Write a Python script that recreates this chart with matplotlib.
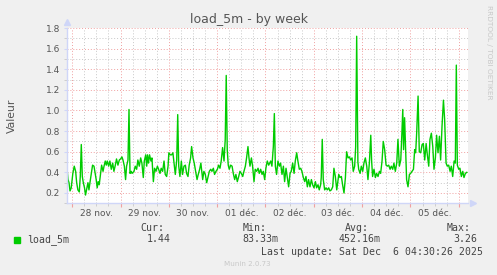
#!/usr/bin/env python3
"""
munin load_5m - by week
"""
import matplotlib
matplotlib.use('Agg')
import matplotlib.pyplot as plt
from matplotlib.ticker import MultipleLocator, FormatStrFormatter, NullFormatter

# hours since 28 nov. 00:00
hours = [
    -2.6, -2.1, -1.6, -1.1, -0.5, 0.3, 1.0, 1.7, 2.2, 2.8, 3.5, 4.0, 4.5, 5.0, 5.5, 6.1, 6.6, 7.1,
    7.8, 8.3, 8.8, 9.5, 10.1, 10.8, 11.4, 11.9, 12.4, 12.9, 13.4, 14.1, 14.6, 15.3, 15.8, 16.4,
    16.9, 17.4, 18.1, 18.7, 19.4, 20.1, 20.7, 21.4, 22.0, 22.7, 23.4, 24.0, 24.7, 25.2, 25.9,
    26.5, 27.0, 27.7, 28.2, 28.7, 29.3,
    29.7, 30.7, 31.3, 32.0, 32.6, 33.3, 34.0, 34.6, 35.3, 35.8, 36.5, 37.0, 37.4, 37.9, 38.4,
    39.1, 39.6, 40.3, 40.9, 41.6, 42.3, 42.9, 43.6, 44.2, 44.9, 45.6, 46.2, 46.9, 47.6, 48.0,
    48.7, 49.4, 50.0, 50.7, 51.2, 51.9, 52.4, 52.9, 53.5, 54.2, 54.8, 55.5, 56.2, 56.8, 57.5,
    58.1, 58.8, 59.3, 60.0, 60.6, 61.3, 62.0, 62.6, 63.3, 63.9,
    64.8, 65.4, 66.1, 66.8, 67.4, 68.1, 68.8, 69.4, 70.1, 70.7, 71.4, 72.1, 72.7, 73.4, 74.0,
    74.7, 75.4, 76.0, 76.5, 77.0, 77.5, 78.0, 78.7, 79.4, 80.0, 80.7, 81.3, 82.0, 82.7, 83.3,
    84.0, 84.7, 85.3, 86.0, 86.6, 87.3, 87.8, 88.3, 89.0, 89.6, 90.3, 90.9, 91.6, 92.3, 92.9,
    93.6, 94.3, 94.9, 95.6, 96.2, 96.9, 97.6,
    98.6, 99.2, 99.9, 100.4, 100.9, 101.5, 102.2, 102.9, 103.5, 104.2, 104.9, 105.5, 106.2,
    106.8, 107.5, 108.2, 108.8, 109.5, 110.2, 110.8, 111.5, 112.1, 112.8, 113.5, 114.1, 114.8,
    115.5, 116.1, 116.8, 117.4, 118.1, 118.8, 119.4, 120.1, 120.8, 121.4, 122.1, 122.7, 123.4,
    123.7, 124.2, 124.7, 125.4, 126.1, 126.7, 127.4, 128.0, 128.7, 129.4, 130.0, 130.7, 131.4,
    132.4, 133.0, 133.7, 134.3, 135.0, 135.7, 136.3, 137.0, 137.7, 138.3, 139.0, 139.6, 140.3,
    140.8, 141.3, 141.9, 142.3, 143.0, 143.6, 144.3, 144.9, 145.6, 146.3, 146.9, 147.6, 148.3,
    148.7, 149.2, 149.9, 150.6, 151.2, 151.9, 152.6, 153.2, 153.9, 154.5, 155.2, 155.9, 156.5,
    157.2, 157.9, 158.5, 159.2, 159.8, 160.5, 161.2, 161.8, 162.5, 163.2, 163.7, 164.2, 164.6,
    165.1, 165.6, 166.1, 166.8,
    167.5, 168.1, 168.8, 169.5, 170.1, 170.6, 171.1, 171.8, 172.4, 173.1, 173.8, 174.4, 175.1,
    175.8, 176.4, 177.1, 177.7, 178.4, 179.1, 179.7, 180.4, 181.0, 181.7, 182.4, 183.0, 183.7,
    184.4, 185.0, 185.7, 186.3, 187.0, 187.7, 188.3, 189.0, 189.7, 190.3, 190.8, 191.3, 192.0,
    192.6, 193.3, 194.0, 194.6, 195.3, 196.0,
]
load = [
    0.44, 0.33, 0.30, 0.22, 0.25, 0.39, 0.46, 0.41, 0.30, 0.23, 0.21, 0.36, 0.67, 0.36, 0.30, 0.25, 0.18, 0.23,
    0.30, 0.23, 0.30, 0.39, 0.47, 0.46, 0.39, 0.33, 0.25, 0.31, 0.28, 0.39, 0.47, 0.41, 0.46, 0.51,
    0.47, 0.51, 0.46, 0.51, 0.43, 0.49, 0.41, 0.47, 0.53, 0.47, 0.52, 0.53, 0.55, 0.52, 0.46,
    0.33, 0.46, 0.52, 1.01, 0.39, 0.41,
    0.39, 0.41, 0.46, 0.43, 0.52, 0.46, 0.54, 0.49, 0.35, 0.51, 0.57, 0.46, 0.57, 0.49, 0.57,
    0.51, 0.54, 0.31, 0.44, 0.41, 0.46, 0.43, 0.39, 0.44, 0.41, 0.51, 0.38, 0.36, 0.46, 0.59,
    0.57, 0.57, 0.59, 0.47, 0.38, 0.52, 0.96, 0.46, 0.36, 0.51, 0.38, 0.46, 0.47, 0.39, 0.36,
    0.47, 0.54, 0.65, 0.54, 0.49, 0.41, 0.33, 0.38, 0.43, 0.49,
    0.33, 0.41, 0.38, 0.30, 0.35, 0.41, 0.43, 0.41, 0.44, 0.38, 0.41, 0.43, 0.47, 0.44, 0.51,
    0.64, 0.51, 0.72, 1.34, 0.62, 0.47, 0.43, 0.47, 0.46, 0.39, 0.33, 0.38, 0.31, 0.36, 0.41,
    0.39, 0.36, 0.41, 0.46, 0.54, 0.65, 0.54, 0.46, 0.54, 0.46, 0.31, 0.43, 0.41, 0.44, 0.39,
    0.43, 0.38, 0.41, 0.33, 0.44, 0.51, 0.47,
    0.51, 0.46, 0.65, 0.97, 0.46, 0.38, 0.51, 0.46, 0.49, 0.38, 0.46, 0.31, 0.44,
    0.36, 0.26, 0.39, 0.41, 0.49, 0.39, 0.51, 0.59, 0.51, 0.43, 0.44, 0.41, 0.35,
    0.31, 0.36, 0.26, 0.33, 0.26, 0.33, 0.28, 0.25, 0.31, 0.25, 0.28, 0.23, 0.28,
    0.35, 0.72, 0.33, 0.23, 0.25, 0.23, 0.25, 0.22, 0.23, 0.26, 0.44, 0.36, 0.23,
    0.38, 0.35, 0.36, 0.28, 0.20, 0.35, 0.60, 0.54, 0.55, 0.52, 0.54, 0.41, 0.46,
    0.65, 1.72, 0.50, 0.43, 0.39, 0.46, 0.41, 0.49, 0.54, 0.46, 0.33, 0.49, 0.76,
    0.52, 0.36, 0.43, 0.35, 0.39, 0.36, 0.41, 0.39, 0.51, 0.70, 0.62, 0.47, 0.46,
    0.47, 0.43, 0.46, 0.43, 0.49, 0.41, 0.49, 0.72, 0.46, 0.52, 0.75, 1.01, 0.62,
    0.93, 0.62, 0.33, 0.26,
    0.38, 0.39, 0.41, 0.43, 0.62, 0.59, 0.78, 1.14, 0.60, 0.59, 0.67, 0.68, 0.52,
    0.68, 0.57, 0.46, 0.72, 0.78, 0.65, 0.43, 0.54, 0.76, 0.59, 0.75, 0.52, 0.85,
    1.10, 0.91, 0.49, 0.46, 0.47, 0.41, 0.46, 0.36, 0.51, 0.49, 1.44, 0.47, 0.43,
    0.44, 0.36, 0.41, 0.35, 0.39, 0.40,
]

day_labels = ['28 nov.', '29 nov.', '30 nov.', '01 déc.', '02 déc.', '03 déc.', '04 déc.', '05 déc.']
day_noon = [12 + 24 * i for i in range(len(day_labels))]

legend_name = 'load_5m'
stat_names = ['Cur:', 'Min:', 'Avg:', 'Max:']
stat_values = ['1.44', '83.33m', '452.16m', '3.26']
last_update = 'Last update: Sat Dec  6 04:30:26 2025'

BG = '#f0f0f0'
FONT = '#555555'
AXIS = '#cfd6f8'
MGRID = '#f0a0a0'
GRID = '#c8c8c8'
GREEN = '#00cc00'

W, H = 497, 275
fig = plt.figure(figsize=(W / 100, H / 100), dpi=100, facecolor=BG)
ax = fig.add_axes([67 / W, 1 - 203.3 / H, (468 - 67) / W, (203.3 - 28) / H])
ax.set_facecolor('white')

ax.plot(hours, load, color=GREEN, linewidth=1.0)

ax.set_xlim(-2.6, 196.6)
ax.set_ylim(0.1, 1.8)

# grids
ax.xaxis.set_major_locator(MultipleLocator(24))
ax.xaxis.set_minor_locator(MultipleLocator(6))
ax.xaxis.set_major_formatter(NullFormatter())
ax.yaxis.set_major_locator(MultipleLocator(0.2))
ax.yaxis.set_minor_locator(MultipleLocator(0.1))
ax.yaxis.set_major_formatter(FormatStrFormatter('%.1f'))
ax.grid(True, which='major', color=MGRID, linestyle=(0, (1, 2)), linewidth=0.7)
ax.grid(True, which='minor', color=GRID, linestyle=(0, (1, 2)), linewidth=0.7)
ax.set_axisbelow(True)

ax.tick_params(axis='x', which='major', length=3, color=MGRID, labelbottom=False)
ax.tick_params(axis='x', which='minor', length=2, color=GRID)
ax.tick_params(axis='y', which='major', length=2, color=AXIS, pad=3,
               labelsize=6.5, labelcolor=FONT)
ax.tick_params(axis='y', which='minor', length=2, color=GRID)

for s in ['top', 'right']:
    ax.spines[s].set_visible(False)
for s in ['left', 'bottom']:
    ax.spines[s].set_color(AXIS)
    ax.spines[s].set_linewidth(1.0)
ax.plot([0], [1.035], marker='^', color=AXIS, markersize=4, transform=ax.transAxes, clip_on=False)
ax.plot([1.012], [0], marker='>', color=AXIS, markersize=4, transform=ax.transAxes, clip_on=False)

# day labels at noon
sec = ax.secondary_xaxis('bottom')
sec.set_xticks(day_noon, day_labels)
sec.tick_params(length=0, pad=4, labelsize=6.5, labelcolor=FONT)
sec.spines['bottom'].set_visible(False)

ax.set_ylabel('Valeur', fontsize=7.8, color=FONT)
ax.yaxis.set_label_coords(-50 / 401, 0.5)

def fx(px):
    return px / W

def fy(py):
    return 1 - py / H

fig.text(fx(248.5), fy(19), 'load_5m - by week', fontsize=9, color=FONT, ha='center', va='center')
fig.text(fx(488.5), fy(5), 'RRDTOOL / TOBI OETIKER', fontsize=5.3, color='#c8c8c8',
         rotation=270, ha='center', va='top')

# legend
mono = 'DejaVu Sans Mono'
fig.patches.append(plt.Rectangle((fx(14), fy(242.7)), 6 / W, 6 / H, color=GREEN,
                                 transform=fig.transFigure, figure=fig))
fig.text(fx(26.7), fy(239.3), legend_name, family=mono, fontsize=7.1, color='#444444', va='center')
name_x = [140, 242.7, 345, 447]
val_x = [147, 242.7, 339, 453]
for name, nx, val, vx in zip(stat_names, name_x, stat_values, val_x):
    fig.text(fx(nx), fy(227.7), name, family=mono, fontsize=7.1, color='#444444', va='center')
    fig.text(fx(vx), fy(239.3), val, family=mono, fontsize=7.1, color='#444444', va='center')
fig.text(fx(261), fy(251.7), last_update, family=mono, fontsize=7.1, color='#444444', va='center')
fig.text(fx(247.5), fy(264.5), 'Munin 2.0.73', fontsize=5.1, color='#c8c8c8', ha='center', va='center')

fig.savefig('out.png', dpi=100, facecolor=BG)
